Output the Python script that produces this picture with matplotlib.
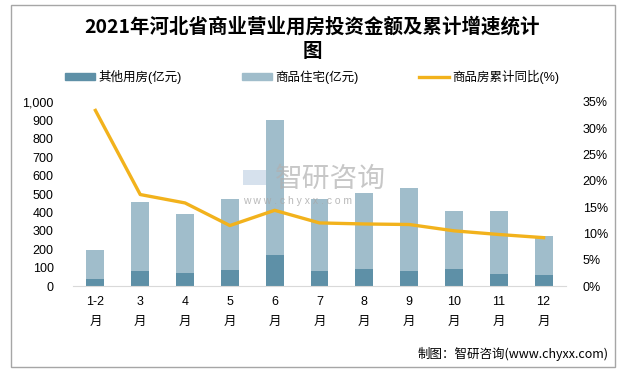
import matplotlib
matplotlib.use("Agg")
import matplotlib.pyplot as plt
from matplotlib.patches import Patch, Rectangle
from matplotlib.lines import Line2D
import numpy as np

plt.rcParams['font.family'] = ['Liberation Sans', 'Noto Sans CJK SC', 'DejaVu Sans']

months = ['1-2\n月', '3\n月', '4\n月', '5\n月', '6\n月', '7\n月',
          '8\n月', '9\n月', '10\n月', '11\n月', '12\n月']
other_use = [36, 80, 69, 85, 167, 80, 91, 80, 91, 64, 58]
residential = [158, 374, 325, 386, 733, 391, 413, 451, 315, 342, 212]
growth = [33.4, 17.4, 15.8, 11.5, 14.4, 12.0, 11.8, 11.7, 10.5, 9.8, 9.2]

c_dark = '#5E90A7'
c_light = '#A0BDCB'
c_line = '#F2B21C'

fig = plt.figure(figsize=(6.24, 3.75), dpi=100)
ax = fig.add_axes([0.117, 0.2373, 0.79, 0.4907])
ax2 = ax.twinx()

x = np.arange(len(months))
ax.bar(x, other_use, width=0.4, color=c_dark, zorder=2)
ax.bar(x, residential, width=0.4, bottom=other_use, color=c_light, zorder=2)
ax2.plot(x, growth, color=c_line, lw=2.4, zorder=3)

ax.set_xlim(-0.5, len(months) - 0.5)
ax.set_ylim(0, 1000)
ax.set_yticks(range(0, 1001, 100))
ax.set_yticklabels(['{:,}'.format(v) for v in range(0, 1001, 100)])
ax2.set_ylim(0, 35)
ax2.set_yticks(range(0, 36, 5))
ax2.set_yticklabels(['{}%'.format(v) for v in range(0, 36, 5)])
ax.set_xticks(x)
ax.set_xticklabels(months, linespacing=1.9)

for a in (ax, ax2):
    for s in a.spines.values():
        s.set_visible(False)
    a.tick_params(length=0, labelsize=9)
ax.spines['bottom'].set_visible(True)
ax.spines['bottom'].set_color('#D9D9D9')
ax.tick_params(axis='y', pad=14)
ax.tick_params(axis='x', pad=7)
ax2.tick_params(axis='y', pad=12)

fig.text(0.5, 0.928, '2021年河北省商业营业用房投资金额及累计增速统计', ha='center', va='center',
         fontsize=14, fontweight='bold', family=['Noto Sans CJK SC'])
fig.text(0.5, 0.862, '图', ha='center', va='center',
         fontsize=14, fontweight='bold', family=['Noto Sans CJK SC'])

handles = [Patch(color=c_dark), Patch(color=c_light), Line2D([], [], color=c_line, lw=2.4)]
labels = ['其他用房(亿元)', '商品住宅(亿元)', '商品房累计同比(%)']
fig.legend(handles, labels, loc='center', bbox_to_anchor=(0.5, 0.795), ncol=3,
           frameon=False, fontsize=9, columnspacing=4.8, handlelength=2.4,
           handleheight=0.6, handletextpad=0.3)

# watermark
fig.text(0.44, 0.523, '智研咨询', ha='left', va='center', fontsize=20, color='#B0B0B0',
         alpha=0.7, family=['Noto Sans CJK SC'])
fig.text(0.39, 0.465, 'w w w . c h y x x . c o m', ha='left', va='center', fontsize=7.5,
         color='#A8A8A8', alpha=0.8)
fig.patches.append(Rectangle((0.389, 0.507), 0.038, 0.04, transform=fig.transFigure,
                             facecolor='#C5D5E6', edgecolor='none', alpha=0.7))

fig.text(0.975, 0.055, '制图：智研咨询(www.chyxx.com)', ha='right', va='center', fontsize=9,
         family=['Noto Sans CJK SC'])

fig.patches.append(Rectangle((11 / 624, 1 - 367 / 375), (615 - 11) / 624, (367 - 5) / 375,
                             transform=fig.transFigure, fill=False, edgecolor='#A6A6A6', lw=1))

fig.savefig('out.png', dpi=100)
